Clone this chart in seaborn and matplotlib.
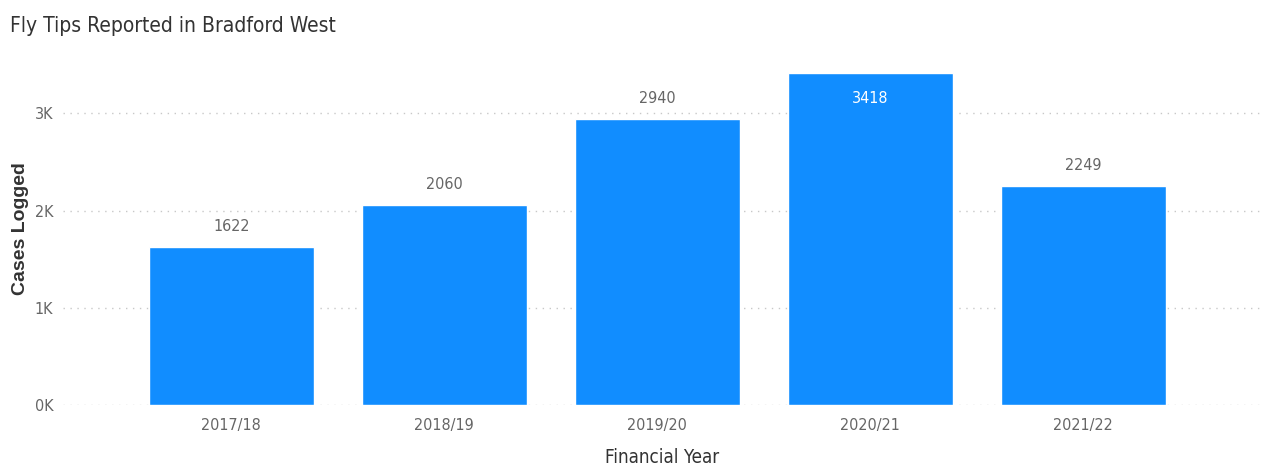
import matplotlib
matplotlib.use("Agg")
from matplotlib import pyplot as plt
import seaborn as sns
import pandas as pd

years = ["2017/18", "2018/19", "2019/20", "2020/21", "2021/22"]
cases = [1622, 2060, 2940, 3418, 2249]

df = pd.DataFrame({"year": years, "cases": cases})

sns.set_style("white")
plt.rcParams['font.family'] = ['DejaVu Sans']
plt.rcParams['font.stretch'] = 'condensed'

fig = plt.figure(figsize=(12.66, 4.65), dpi=100)
ax = fig.add_axes([0.0498, 0.129, 0.947, 0.757])

sns.barplot(data=df, x="year", y="cases", color="#118DFF", saturation=1, width=0.775, ax=ax)

ax.set_ylim(0, 3620)
ax.set_xlim(-0.79, 4.84)
ax.set_yticks([0, 1000, 2000, 3000])
ax.set_yticklabels(["0K", "1K", "2K", "3K"])
ax.grid(axis="y", linestyle=(0, (1, 4)), color="#c8c8c8", linewidth=1)
ax.set_axisbelow(True)
for s in ax.spines.values():
    s.set_visible(False)
ax.tick_params(axis="both", length=0, labelsize=11.5, labelcolor="#666666")
ax.tick_params(axis="x", pad=9)
ax.tick_params(axis="y", pad=7)

# value labels, the biggest one sits inside its bar
for i, v in enumerate(cases):
    if v == max(cases):
        ax.text(i, v - 270, str(v), ha="center", va="center", color="white", fontsize=11.5)
    else:
        ax.text(i, v + 210, str(v), ha="center", va="center", color="#666666", fontsize=11.5)

ax.set_xlabel("Financial Year", fontsize=13.5, color="#333333", labelpad=11)
ax.set_ylabel("Cases Logged", fontsize=14, color="#333333", fontweight="bold",
              family=["Liberation Sans", "DejaVu Sans"], stretch="normal", labelpad=4)

fig.text(0.008, 0.945, "Fly Tips Reported in Bradford West", fontsize=15, color="#333333", va="center")

fig.savefig("out.png", dpi=100)
